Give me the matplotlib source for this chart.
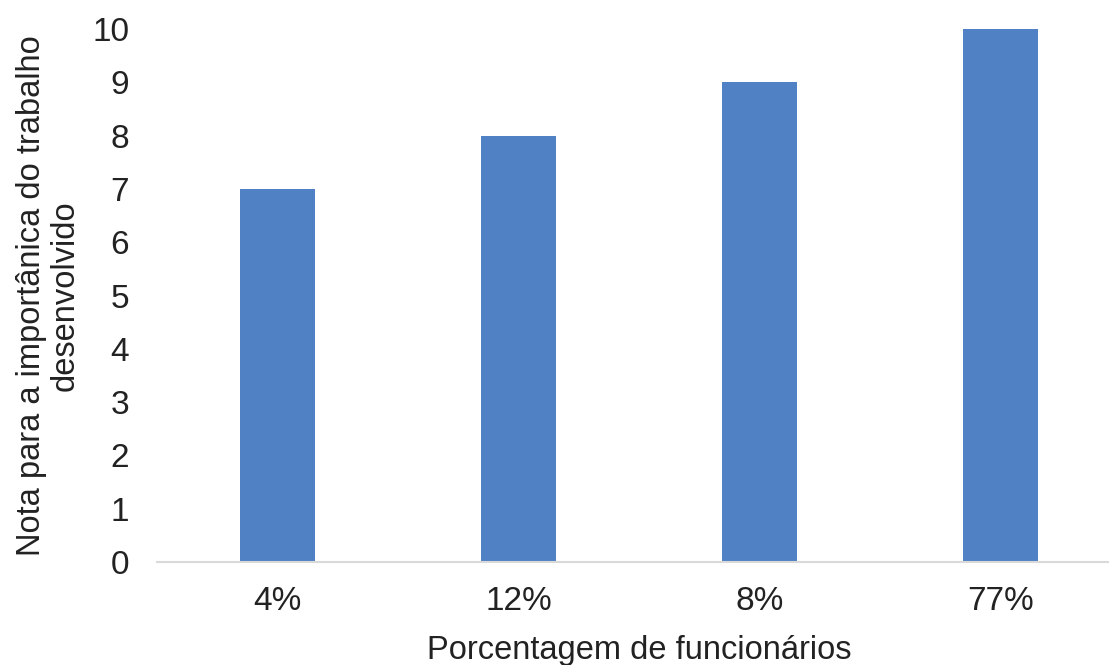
import matplotlib
matplotlib.use("Agg")
import matplotlib.pyplot as plt

categories = ["4%", "12%", "8%", "77%"]
values = [7, 8, 9, 10]
y_ticks = list(range(0, 11))

plt.rcParams["font.family"] = ["Liberation Sans", "DejaVu Sans"]

fig = plt.figure(figsize=(11.09, 6.65), dpi=100)
ax = fig.add_axes([157 / 1109, 1 - 562 / 665, 964 / 1109, 533 / 665])

x = list(range(len(categories)))
ax.bar(x, values, width=0.315, color="#4F81C4", zorder=2)

ax.set_xlim(-0.5, len(categories) - 0.5)
ax.set_ylim(0, 10)
ax.set_yticks(y_ticks)
ax.set_xticks(x)
ax.set_xticklabels(categories)
ax.tick_params(axis="both", length=0, labelsize=24, colors="#222222")
ax.tick_params(axis="y", pad=20)
ax.tick_params(axis="x", pad=17)

for side in ("top", "right", "left"):
    ax.spines[side].set_visible(False)
ax.spines["bottom"].set_color("#D9D9D9")
ax.spines["bottom"].set_linewidth(1.5)

ax.set_xlabel("Porcentagem de funcionários", fontsize=23.5, color="#222222", labelpad=13)
ax.set_ylabel("Nota para a importânica do trabalho\ndesenvolvido", fontsize=23.5,
              color="#222222", labelpad=8, linespacing=1.15)

fig.savefig("out.png", dpi=100, facecolor="white")
